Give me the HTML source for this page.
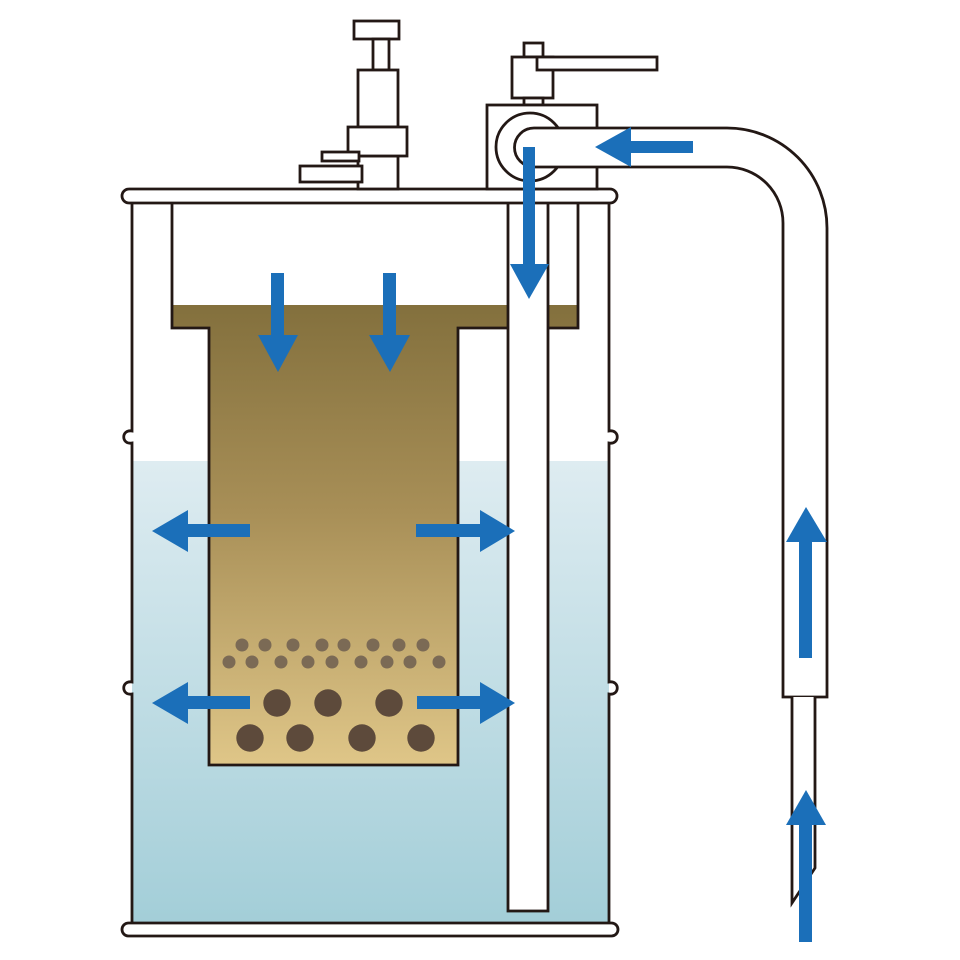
<!DOCTYPE html>
<html><head><meta charset="utf-8"><style>
html,body{margin:0;padding:0;background:#fff;}
svg{display:block;}
</style></head><body>
<svg width="960" height="960" viewBox="0 0 960 960" xmlns="http://www.w3.org/2000/svg">
<defs>
<linearGradient id="water" gradientUnits="userSpaceOnUse" x1="0" y1="461" x2="0" y2="923">
<stop offset="0" stop-color="#deecf1"/>
<stop offset="1" stop-color="#a3ced8"/>
</linearGradient>
<linearGradient id="brown" gradientUnits="userSpaceOnUse" x1="0" y1="305" x2="0" y2="765">
<stop offset="0" stop-color="#83703d"/>
<stop offset="0.45" stop-color="#a88f57"/>
<stop offset="1" stop-color="#dfc688"/>
</linearGradient>
</defs>
<rect width="960" height="960" fill="#fff"/>
<!-- water -->
<rect x="132" y="461" width="477" height="462" fill="url(#water)"/>
<!-- brown filter -->
<path d="M172,305 H578 V328 H458 V765 H209 V328 H172 Z" fill="url(#brown)"/>
<!-- center pipe -->
<rect x="508" y="196" width="40" height="715" fill="#fff" stroke="#231815" stroke-width="2.8"/>
<g fill="none" stroke="#231815" stroke-width="2.8">
<!-- container outline -->
<path d="M172,203 V328 H209 V765 H458 V328 H508"/>
<path d="M548,328 H578 V203"/>
<!-- drum walls with ribs -->
<path d="M132,203 V431 C121,429 121,445 132,443 V682 C121,680 121,696 132,694 V923"/>
<path d="M609,203 V431 C620,429 620,445 609,443 V682 C620,680 620,696 609,694 V923"/>
</g>
<!-- rims -->
<rect x="122" y="189" width="495" height="14" rx="7" fill="#fff" stroke="#231815" stroke-width="2.8"/>
<rect x="122" y="923" width="496" height="13" rx="6.5" fill="#fff" stroke="#231815" stroke-width="2.8"/>
<!-- particles -->
<g fill="#7b6a55">
<circle cx="242" cy="645" r="6.5"/><circle cx="265" cy="645" r="6.5"/><circle cx="293" cy="645" r="6.5"/><circle cx="322" cy="645" r="6.5"/><circle cx="344" cy="645" r="6.5"/><circle cx="373" cy="645" r="6.5"/><circle cx="399" cy="645" r="6.5"/><circle cx="423" cy="645" r="6.5"/>
<circle cx="229" cy="662" r="6.5"/><circle cx="252" cy="662" r="6.5"/><circle cx="281" cy="662" r="6.5"/><circle cx="308" cy="662" r="6.5"/><circle cx="332" cy="662" r="6.5"/><circle cx="361" cy="662" r="6.5"/><circle cx="387" cy="662" r="6.5"/><circle cx="410" cy="662" r="6.5"/><circle cx="439" cy="662" r="6.5"/>
</g>
<g fill="#5d4a3b">
<circle cx="277" cy="703" r="13.7"/><circle cx="328" cy="703" r="13.7"/><circle cx="389" cy="703" r="13.7"/>
<circle cx="250" cy="738" r="13.7"/><circle cx="300" cy="738" r="13.7"/><circle cx="362" cy="738" r="13.7"/><circle cx="421" cy="738" r="13.7"/>
</g>
<!-- left valve -->
<g fill="#fff" stroke="#231815" stroke-width="2.8">
<rect x="354" y="21" width="45" height="18"/>
<rect x="373" y="39" width="16" height="31"/>
<rect x="358" y="70" width="40" height="57"/>
<rect x="358" y="156" width="40" height="33"/>
<rect x="348" y="127" width="59" height="29"/>
<rect x="322" y="152" width="37" height="9"/>
<rect x="300" y="166" width="62" height="16"/>
</g>
<!-- right valve -->
<g fill="#fff" stroke="#231815" stroke-width="2.8">
<rect x="524" y="43" width="19" height="14"/>
<rect x="512" y="57" width="41" height="41"/>
<rect x="537" y="57" width="120" height="13"/>
<rect x="524" y="98" width="19" height="7"/>
<rect x="487" y="105" width="110" height="84"/>
<circle cx="530" cy="147" r="34"/>
<!-- big pipe -->
<path d="M534,128 H727 A100,100 0 0 1 827,228 V697 H783 V223 A56,56 0 0 0 727,167 H534 A19.5,19.5 0 0 1 534,128 Z"/>
</g>
<!-- thin tube -->
<path d="M792,697 V903 L815,868 V697" fill="#fff" stroke="#231815" stroke-width="2.8"/>
<!-- arrows -->
<g fill="#1b6fb9">
<rect x="628" y="141" width="65" height="12"/>
<polygon points="595,147 631,127 631,167"/>
<rect x="523" y="147" width="12" height="120"/>
<polygon points="510,264 549,264 529,299"/>
<rect x="271" y="273" width="13" height="65"/>
<polygon points="258,335 298,335 278,372"/>
<rect x="383" y="273" width="13" height="65"/>
<polygon points="369,335 410,335 390,372"/>
<rect x="185" y="524" width="65" height="13"/>
<polygon points="152,531 188,510 188,552"/>
<rect x="185" y="696" width="65" height="13"/>
<polygon points="152,703 188,682 188,724"/>
<rect x="416" y="524" width="66" height="13"/>
<polygon points="515,531 480,510 480,552"/>
<rect x="417" y="696" width="66" height="13"/>
<polygon points="515,703 480,682 480,724"/>
<rect x="799" y="539" width="13" height="119"/>
<polygon points="806,507 786,542 827,542"/>
<rect x="799" y="822" width="13" height="120"/>
<polygon points="806,790 786,825 826,825"/>
</g>
</svg>
</body></html>
